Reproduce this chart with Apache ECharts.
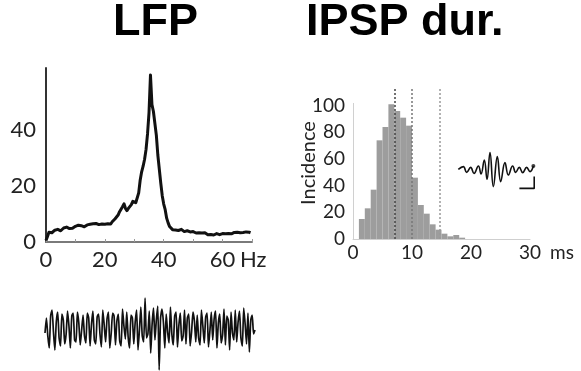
<!DOCTYPE html>
<html>
<head>
<meta charset="utf-8">
<script src="https://cdn.jsdelivr.net/npm/echarts@6/dist/echarts.min.js"></script>
<style>
  html, body { margin: 0; padding: 0; background: #fff; }
  #chart { width: 581px; height: 371px; }
</style>
</head>
<body>
<div id="chart"></div>
<script>
// ---- LFP power spectrum (0.5 Hz steps from 0 Hz) ----
const freqStep = 0.5;
const lfpPower = [
  0.5, 2.0, 3.5, 3.8, 3.3, 4.0, 4.2, 3.8, 4.5, 4.3,
  4.0, 4.6, 5.0, 5.6, 5.3, 5.0, 4.8, 5.1, 4.9, 5.3,
  5.6, 5.4, 6.0, 5.5, 5.8, 6.2, 5.4, 5.9, 6.1, 5.6,
  6.3, 5.9, 6.5, 6.0, 6.6, 6.9, 6.2, 6.7, 6.4, 5.9,
  6.3, 6.1, 6.5, 6.0, 6.4, 7.2, 7.6, 8.3, 9.0, 9.6,
  10.8, 11.5, 12.6, 13.6, 12.0, 11.2, 12.0, 12.6, 13.3, 14.5,
  15.2, 14.0, 13.5, 17.5, 22.0, 25.0, 27.0, 29.5, 33.0, 38.5,
  46.0, 59.5, 49.0, 46.5, 46.0, 38.0, 31.0, 26.0, 21.0, 16.5,
  13.5, 11.5, 8.5, 6.8, 5.5, 5.0, 4.4, 4.0, 4.3, 4.6,
  4.1, 4.4, 4.5, 3.9, 3.7, 4.2, 4.0, 3.5, 3.6, 3.3,
  3.7, 3.4, 3.2, 3.5, 3.3, 3.0, 3.2, 3.1, 3.3, 2.8,
  2.6, 2.5, 2.7, 2.4, 2.5, 2.6, 3.0, 2.7, 2.6, 2.8,
  3.0, 2.7, 2.9, 3.2, 3.0, 3.1, 2.9, 3.2, 3.4, 3.3,
  3.5, 3.2, 3.3, 3.6, 3.4, 3.3, 3.6, 3.4, 3.5, 3.3
];
const spectrumXLabels = [0, 20, 40, 60];
const spectrumYLabels = [0, 20, 40];

// ---- raw LFP trace below the spectrum ----
const lfpTrace = [
  -5, 10, -8, -20, 12, 18, -4, -22, 6, 16, -10, -18, 14, 8, -16, -6, 17, 2, -20, 12,
  15, -12, -14, 16, 5, -17, -2, 13, -8, -15, 15, 10, -18, 4, 17, -12, -16, 11, 14, -6,
  -19, 18, 3, -14, 9, 16, -20, -5, 15, 12, -17, 7, 14, -13, -18, 19, 2, -11, 16, -9,
  -20, 13, 10, -16, 6, 18, -22, -2, 21, -8, -14, 30, -10, -6, 17, -25, 4, 20, -12, 8,
  22, -42, 10, 19, 6, -20, 14, -4, -15, 21, -6, -17, 12, 16, -19, 3, 15, -13, -8, 18,
  -16, 10, 14, -18, -4, 16, 7, -14, 13, -10, -17, 18, 2, -15, 11, 15, -19, -3, 16, -12,
  9, 17, -20, 5, 14, -15, -7, 19, -17, 12, 8, -22, 16, -5, -12, 18, -14, 6, 17, -10,
  -18, 20, 4, -16, 15, -24, 8, 13, -6, -2
];

// ---- IPSP duration histogram (1 ms bins) ----
const binStarts = [1, 2, 3, 4, 5, 6, 7, 8, 9, 10, 11, 12, 13, 14, 15, 16, 17, 18];
const incidence = [15, 23, 37, 74, 84, 101, 96, 91, 85, 46, 25.5, 19, 11, 7, 4, 2, 3, 1];
const binWidth = 1;
const histXLabels = [0, 10, 20, 30];
const histYLabels = [0, 20, 40, 60, 80, 100];
const durationMarks = [7, 10, 14.7];
const durationMarkColors = ['#444', '#777', '#999'];

// ---- example IPSP inset and its scale bar ----
const insetTrace = [
  [1.7, 0.3], [8.1, 1.7], [12.4, -1.2], [17.5, 1.3], [21.8, -1.7], [27.4, 2.0],
  [30.8, -2.0], [35.0, 5.0], [38.5, -4.7], [42.3, 8.7], [46.6, -8.3], [51.7, 6.7],
  [56.0, -5.8], [61.5, 3.7], [65.8, -2.5], [71.4, 2.0], [75.2, -1.2], [79.9, 1.3],
  [84.2, -1.3], [89.3, 1.3], [93.6, -0.8], [97.9, 2.0]
];
const scaleBar = [[80, -9.2], [99, -9.2], [99, -3.3]];

const labelFont = "Lato, 'Open Sans', sans-serif";
const titleFont = "'Liberation Sans', Arial, sans-serif";

const chart = echarts.init(document.getElementById('chart'), null, { renderer: 'canvas' });

chart.setOption({
  animation: false,
  backgroundColor: '#fff',
  title: [
    { text: 'LFP', left: 113, top: 0, padding: 0,
      textStyle: { fontFamily: titleFont, fontWeight: 'bold', fontSize: 45, color: '#000' } },
    { text: 'IPSP dur.', left: 306, top: 0, padding: 0,
      textStyle: { fontFamily: titleFont, fontWeight: 'bold', fontSize: 45, color: '#000' } }
  ],
  grid: [
    { left: 46, top: 68, width: 206, height: 174 },
    { left: 45, top: 296, width: 210, height: 75 },
    { left: 353, top: 87, width: 177, height: 152 },
    { left: 457, top: 150, width: 78, height: 40 }
  ],
  xAxis: [
    {
      gridIndex: 0, type: 'value', min: 0, max: 70, interval: 10,
      axisLine: { show: true, lineStyle: { color: '#7a7a7a', width: 2 } },
      axisTick: { show: true, inside: true, length: 3, lineStyle: { color: '#999', width: 1 } },
      splitLine: { show: false },
      axisLabel: {
        margin: 7, fontSize: 22, color: '#222', fontFamily: labelFont,
        formatter: v => spectrumXLabels.includes(v) ? String(v) : ''
      },
      name: 'Hz', nameLocation: 'end', nameGap: -12,
      nameTextStyle: { fontSize: 22, color: '#222', fontFamily: labelFont, verticalAlign: 'top', padding: [7, 0, 0, 0] }
    },
    { gridIndex: 1, type: 'category', boundaryGap: false, show: false, data: lfpTrace.map((_, i) => i) },
    {
      gridIndex: 2, type: 'value', min: 0, max: 30, interval: 10,
      axisLine: { show: true, lineStyle: { color: '#cfcfcf', width: 1 } },
      axisTick: { show: false },
      splitLine: { show: false },
      axisLabel: {
        margin: 4, fontSize: 19, color: '#222', fontFamily: labelFont,
        formatter: v => histXLabels.includes(v) ? String(v) : ''
      },
      name: 'ms', nameLocation: 'end', nameGap: 20,
      nameTextStyle: { fontSize: 19, color: '#222', fontFamily: labelFont, verticalAlign: 'top', padding: [4, 0, 0, 0] }
    },
    { gridIndex: 3, type: 'value', min: 0, max: 100, show: false }
  ],
  yAxis: [
    {
      gridIndex: 0, type: 'value', min: 0, max: 62, interval: 20,
      axisLine: { show: true, lineStyle: { color: '#333', width: 2 } },
      axisTick: { show: false },
      splitLine: { show: false },
      axisLabel: {
        margin: 10, fontSize: 22, color: '#222', fontFamily: labelFont,
        formatter: v => spectrumYLabels.includes(v) ? String(v) : ''
      }
    },
    { gridIndex: 1, type: 'value', min: -43, max: 32, show: false },
    {
      gridIndex: 2, type: 'value', min: 0, max: 114, interval: 20,
      axisLine: { show: false },
      axisTick: { show: false },
      splitLine: { show: false },
      axisLabel: {
        margin: 8, fontSize: 19, color: '#222', fontFamily: labelFont,
        formatter: v => histYLabels.includes(v) ? String(v) : ''
      },
      name: 'Incidence', nameLocation: 'middle', nameGap: 34, nameRotate: 90,
      nameMoveOverlap: false,
      nameTextStyle: { fontSize: 20, color: '#222', fontFamily: labelFont }
    },
    { gridIndex: 3, type: 'value', min: -10, max: 10, show: false }
  ],
  series: [
    {
      type: 'line', xAxisIndex: 0, yAxisIndex: 0,
      data: lfpPower.map((p, i) => [i * freqStep, p]),
      showSymbol: false, symbol: 'none',
      lineStyle: { color: '#111', width: 3, join: 'round' }
    },
    {
      type: 'line', xAxisIndex: 1, yAxisIndex: 1,
      data: lfpTrace, showSymbol: false, symbol: 'none', smooth: 0.2,
      lineStyle: { color: '#111', width: 1.7 }
    },
    {
      type: 'custom', xAxisIndex: 2, yAxisIndex: 2,
      data: binStarts.map((s, i) => [s, incidence[i]]),
      encode: { x: 0, y: 1 },
      renderItem: (params, api) => {
        const top = api.coord([api.value(0), api.value(1)]);
        const base = api.coord([api.value(0) + binWidth, 0]);
        return {
          type: 'rect',
          shape: { x: top[0], y: top[1], width: base[0] - top[0], height: base[1] - top[1] },
          style: { fill: '#9d9d9d' }
        };
      }
    },
    {
      // left axis line of the histogram and the duration markers
      type: 'line', xAxisIndex: 2, yAxisIndex: 2,
      data: [[0, 0]], showSymbol: false, symbol: 'none', lineStyle: { width: 0 },
      markLine: {
        silent: true, symbol: 'none', label: { show: false },
        data: [
          [{ coord: [0, 0], lineStyle: { color: '#d0d0d0', width: 1, type: 'solid' } }, { coord: [0, 102] }],
          ...durationMarks.map((d, i) => ({
            xAxis: d, lineStyle: { color: durationMarkColors[i], width: 1.5, type: [2, 2] }
          }))
        ]
      }
    },
    {
      type: 'line', xAxisIndex: 3, yAxisIndex: 3,
      data: insetTrace, showSymbol: false, symbol: 'none', smooth: 0.45,
      lineStyle: { color: '#111', width: 1.6 }
    },
    {
      type: 'scatter', xAxisIndex: 3, yAxisIndex: 3,
      data: [insetTrace[insetTrace.length - 1]], symbolSize: 4,
      itemStyle: { color: '#111' }
    },
    {
      type: 'line', xAxisIndex: 3, yAxisIndex: 3,
      data: scaleBar, showSymbol: false, symbol: 'none',
      lineStyle: { color: '#111', width: 1.6 }
    }
  ]
});
</script>
</body>
</html>
